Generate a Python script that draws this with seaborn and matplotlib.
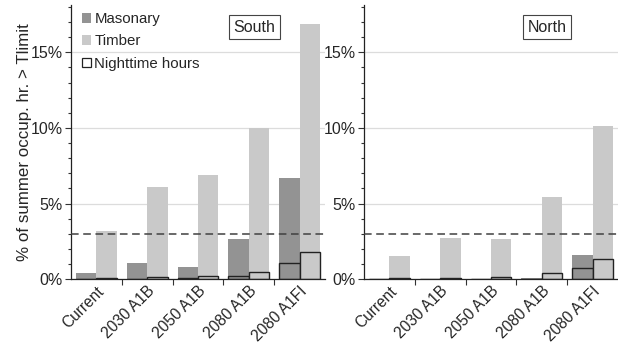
import pandas as pd
import numpy as np
import matplotlib
matplotlib.use('Agg')
import matplotlib.pyplot as plt
import seaborn as sns
from matplotlib.patches import Patch
from matplotlib.ticker import MultipleLocator, FuncFormatter

# values (% of summer occupied hours above Tlimit)
scenarios = ['Current', '2030 A1B', '2050 A1B', '2080 A1B', '2080 A1FI']
materials = ['Masonary', 'Timber']

south_masonry = [0.40, 1.10, 0.84, 2.67, 6.67]
south_timber = [3.19, 6.08, 6.89, 10.02, 16.90]
south_masonry_night = [0.05, 0.00, 0.08, 0.22, 1.06]
south_timber_night = [0.10, 0.15, 0.22, 0.50, 1.83]

north_masonry = [0.00, 0.00, 0.00, 0.10, 1.61]
north_timber = [1.56, 2.71, 2.67, 5.42, 10.15]
north_masonry_night = [0.00, 0.00, 0.00, 0.05, 0.73]
north_timber_night = [0.08, 0.08, 0.18, 0.40, 1.32]

threshold = 3.0
regions = ['South', 'North']

palette = {'Masonary': '#939393', 'Timber': '#c9c9c9'}


def long_table(masonry, timber):
    return pd.DataFrame({
        'scenario': scenarios * 2,
        'material': ['Masonary'] * len(scenarios) + ['Timber'] * len(scenarios),
        'value': list(masonry) + list(timber),
    })


data = {
    'South': (long_table(south_masonry, south_timber),
              long_table(south_masonry_night, south_timber_night)),
    'North': (long_table(north_masonry, north_timber),
              long_table(north_masonry_night, north_timber_night)),
}

sns.set_style('white')
plt.rcParams['font.family'] = ['Liberation Sans', 'DejaVu Sans']
plt.rcParams['font.size'] = 11.5

fig = plt.figure(figsize=(6.18, 3.43), dpi=100)
axes = [fig.add_axes([0.1149, 0.1857, 0.411, 0.80]),
        fig.add_axes([0.589, 0.1857, 0.411, 0.80])]

for ax, region in zip(axes, regions):
    total, night = data[region]
    sns.barplot(data=total, x='scenario', y='value', hue='material',
                order=scenarios, hue_order=materials, palette=palette,
                width=0.8, linewidth=0, legend=False, ax=ax)
    sns.barplot(data=night, x='scenario', y='value', hue='material',
                order=scenarios, hue_order=materials, palette=palette,
                width=0.8, edgecolor='#222222', linewidth=1.0,
                legend=False, ax=ax)

    ax.axhline(threshold, color='#404040', linestyle=(0, (5, 3)), linewidth=1.1, zorder=5)

    ax.set_ylim(0, 18.13)
    ax.set_xlim(-0.5, 4.5)
    ax.yaxis.set_major_locator(MultipleLocator(5))
    ax.yaxis.set_minor_locator(MultipleLocator(1))
    ax.yaxis.set_major_formatter(FuncFormatter(lambda v, p: f'{int(v)}%'))
    ax.yaxis.grid(True, which='major', color='#dcdcdc', linewidth=0.9)
    ax.set_axisbelow(True)

    ax.set_xticks(range(len(scenarios)))
    ax.set_xticklabels(scenarios, rotation=45, ha='right', rotation_mode='anchor')
    ax.set_xticks([0.5, 1.5, 2.5, 3.5], minor=True)
    ax.tick_params(axis='x', which='major', length=0, pad=3, labelsize=11.2)
    ax.tick_params(axis='x', which='minor', length=4, width=0.8, color='#333333', direction='out', bottom=True)
    ax.tick_params(axis='y', which='major', length=4, width=0.8, color='#333333', direction='out', left=True, pad=2, labelsize=11.5)
    ax.tick_params(axis='y', which='minor', length=2.5, width=0.8, color='#333333', direction='out', left=True)

    for side in ['top', 'right']:
        ax.spines[side].set_visible(False)
    for side in ['left', 'bottom']:
        ax.spines[side].set_color('#222222')
        ax.spines[side].set_linewidth(0.9)

    ax.set_xlabel('')
    ax.set_ylabel('')

    ax.text(0.722, 0.918, region, transform=ax.transAxes, ha='center', va='center',
            fontsize=11.5,
            bbox=dict(boxstyle='square,pad=0.28', facecolor='white', edgecolor='#444444', linewidth=0.8))

axes[0].set_ylabel('% of summer occup. hr. > Tlimit', fontsize=12.2, labelpad=-1)

handles = [Patch(facecolor=palette['Masonary'], edgecolor='none', label='Masonary'),
           Patch(facecolor=palette['Timber'], edgecolor='none', label='Timber'),
           Patch(facecolor='white', edgecolor='#222222', linewidth=0.9, label='Nighttime hours')]
axes[0].legend(handles=handles, loc='upper left', bbox_to_anchor=(0.0, 1.012),
               frameon=False, handlelength=0.6, handleheight=0.6,
               handletextpad=0.25, labelspacing=0.55, fontsize=10.8, borderaxespad=0.3)

fig.savefig('out.png', dpi=100)
